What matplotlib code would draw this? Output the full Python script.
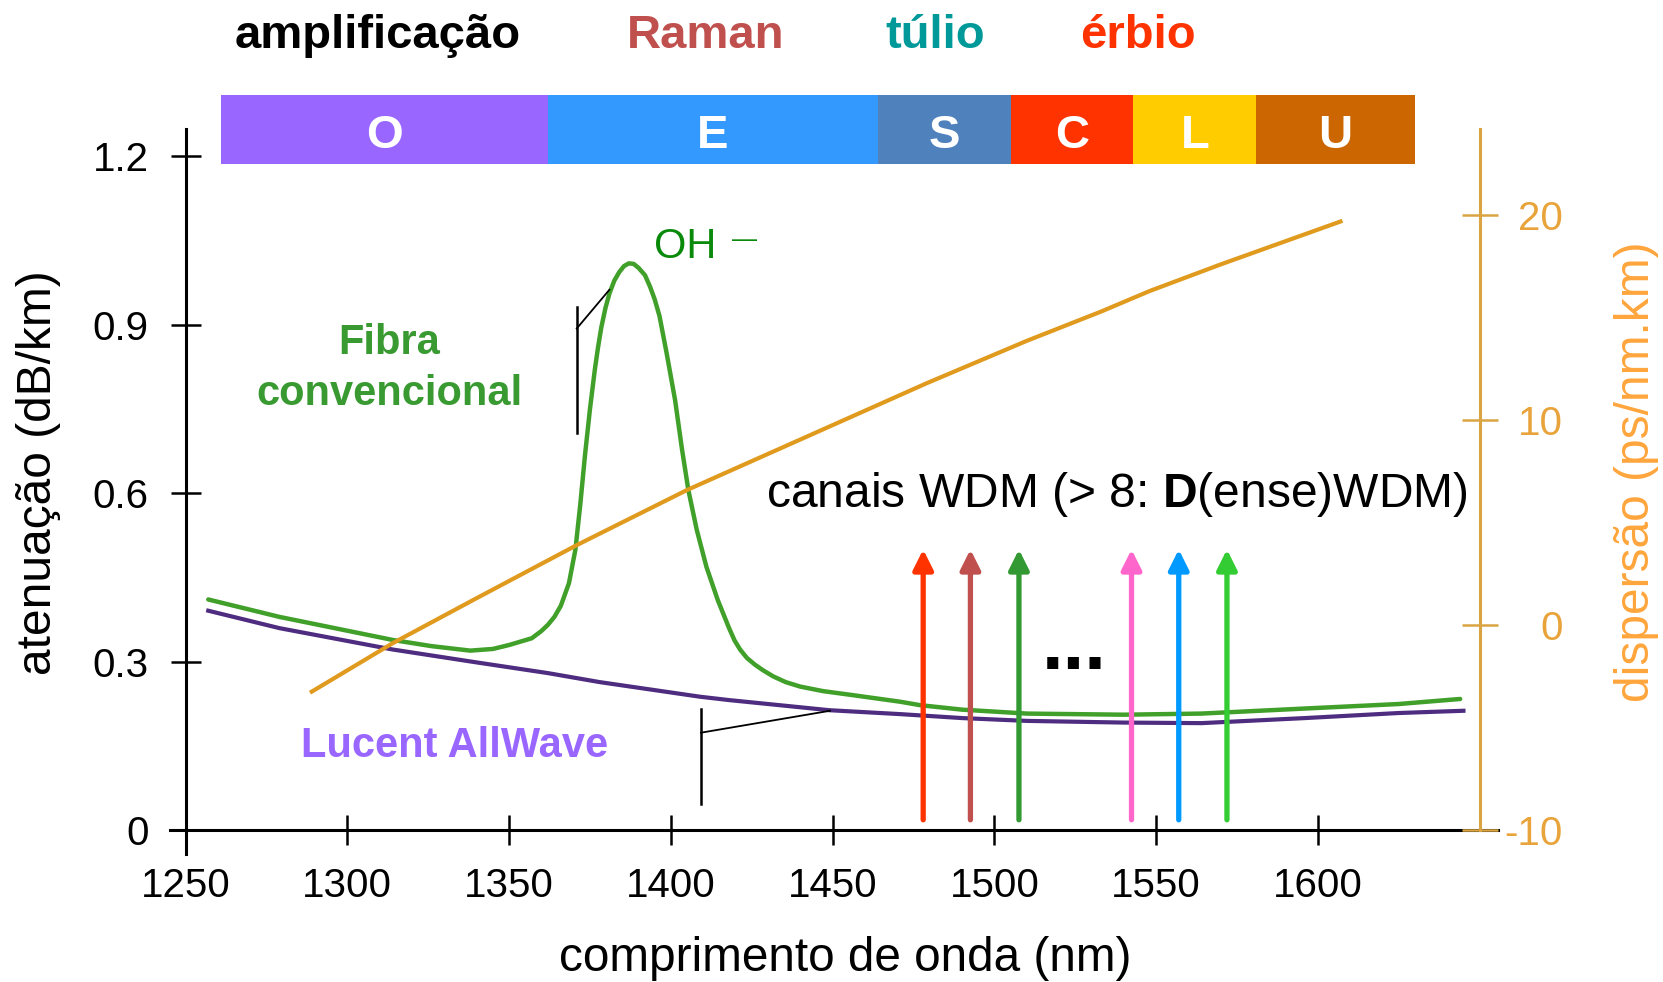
import matplotlib
matplotlib.use('Agg')
import matplotlib.pyplot as plt

plt.rcParams['font.family'] = ['Liberation Sans', 'DejaVu Sans']
plt.rcParams['axes.unicode_minus'] = False
plt.rcParams['mathtext.fontset'] = 'custom'
plt.rcParams['mathtext.rm'] = 'Liberation Sans'
plt.rcParams['mathtext.bf'] = 'Liberation Sans:bold'

# curvas
lam_conv = [1257, 1279, 1314, 1326, 1338, 1345, 1350, 1357, 1360, 1362, 1364, 1366, 1368.5,
            1370.5, 1372, 1373.5, 1375, 1376.5, 1377.5, 1378.5, 1379.8, 1381, 1382.5, 1384,
            1385.5, 1387, 1388.5, 1390, 1392, 1393.6, 1395, 1396.5, 1398.7, 1401.3, 1403.4,
            1405.4, 1408, 1411, 1414.5, 1418, 1419.7, 1421.4, 1423.5, 1426, 1428.5, 1431.7,
            1435.5, 1440, 1447, 1456, 1471, 1477, 1490, 1510, 1540, 1564, 1596, 1625, 1644]
att_conv = [0.411, 0.380, 0.339, 0.328, 0.320, 0.323, 0.330, 0.342, 0.355, 0.366, 0.380,
            0.400, 0.440, 0.500, 0.580, 0.670, 0.750, 0.820, 0.860, 0.895, 0.930, 0.955,
            0.978, 0.993, 1.004, 1.009, 1.008, 1.001, 0.988, 0.967, 0.945, 0.915, 0.849,
            0.766, 0.680, 0.606, 0.535, 0.469, 0.410, 0.360, 0.338, 0.322, 0.307, 0.295,
            0.285, 0.274, 0.264, 0.256, 0.248, 0.241, 0.229, 0.223, 0.215, 0.208, 0.206,
            0.208, 0.217, 0.225, 0.234]

lam_allwave = [1257, 1279, 1314, 1340, 1362, 1378, 1409, 1418, 1449, 1471, 1490, 1510,
               1540, 1564, 1596, 1625, 1645]
att_allwave = [0.391, 0.360, 0.322, 0.299, 0.280, 0.264, 0.238, 0.232, 0.214, 0.207, 0.200,
               0.195, 0.192, 0.191, 0.200, 0.209, 0.213]

lam_disp = [1289, 1314, 1340, 1371, 1405, 1440, 1479, 1510, 1533, 1548, 1570, 1607]
disp = [-3.23, -0.87, 1.33, 3.92, 6.60, 9.06, 11.80, 13.87, 15.30, 16.30, 17.60, 19.69]

# bandas
band_names = ['O', 'E', 'S', 'C', 'L', 'U']
band_edges = [1261, 1362, 1464, 1505, 1543, 1581, 1630]
band_colors = ['#9966FF', '#3399FF', '#4F81BD', '#FF3300', '#FFCC00', '#CC6600']

# canais WDM
wdm_lam = [1478, 1492.6, 1507.6, 1542.4, 1557, 1571.9]
wdm_colors = ['#FF3300', '#C0504D', '#339933', '#FF66CC', '#0099FF', '#33CC33']

x_ticks = [1250, 1300, 1350, 1400, 1450, 1500, 1550, 1600]
att_ticks = [0, 0.3, 0.6, 0.9, 1.2]
att_labels = ['0', '0.3', '0.6', '0.9', '1.2']
disp_ticks = [-10, 0, 10, 20]

top_labels = ['amplificação', 'Raman', 'túlio', 'érbio']
top_colors = ['black', '#C0504D', '#009999', '#FF3300']
top_x = [0.2271, 0.4241, 0.5625, 0.6843]

green = '#40A02A'
purple = '#4E2C80'
gold = '#E09A1E'
gold_axis = '#D9A441'

fig = plt.figure(figsize=(16.63, 9.82), dpi=100)
ax = fig.add_axes([0.11161, 0.15428, 0.77811, 0.71436])
ax.set_xlim(1250, 1650)
ax.set_ylim(0, 1.248)
for s in ax.spines.values():
    s.set_visible(False)

ax.plot(lam_conv, att_conv, color=green, lw=3.2, solid_joinstyle='round',
        solid_capstyle='round', zorder=2)
ax.plot(lam_allwave, att_allwave, color=purple, lw=3.0, solid_joinstyle='round', zorder=2)

# eixos desenhados a mao (passam um pouco alem)
ax.plot([0, 0], [-0.034, 1], color='black', lw=2.2, transform=ax.transAxes, clip_on=False)
ax.plot([-0.012, 1.014], [0, 0], color='black', lw=2.2, transform=ax.transAxes,
        clip_on=False, zorder=5)

ax.set_xticks(x_ticks)
ax.set_yticks(att_ticks)
ax.set_yticklabels(att_labels)
ax.tick_params(axis='both', direction='inout', length=22, width=1.8, labelsize=29)
ax.tick_params(axis='x', pad=15)
ax.tick_params(axis='y', pad=15.5)

# barra das bandas
for i, name in enumerate(band_names):
    x0, x1 = band_edges[i], band_edges[i + 1]
    ax.bar(x0, 0.1227, width=x1 - x0, bottom=1.185, align='edge', color=band_colors[i],
           clip_on=False, zorder=4)
    ax.text((x0 + x1) / 2, 1.2134, name, ha='center', va='baseline', color='white',
            fontsize=34, fontweight='bold', clip_on=False, zorder=5)

# setas WDM
for lam, c in zip(wdm_lam, wdm_colors):
    ax.annotate('', xy=(lam, 0.50), xytext=(lam, 0.019),
                arrowprops=dict(arrowstyle='-|>,head_length=0.6,head_width=0.3',
                                color=c, lw=3.8, mutation_scale=20,
                                shrinkA=0, shrinkB=0), zorder=3)
ax.text(1524.6, 0.287, '...', ha='center', va='baseline', fontsize=56, fontweight='bold')

# textos
ax.text(1313, 0.822, 'Fibra\nconvencional', ha='center', va='center', color='#3A9A32',
        fontsize=30, fontweight='bold', linespacing=1.35)
ax.text(1333, 0.151, 'Lucent AllWave', ha='center', va='center', color='#9966FF',
        fontsize=30, fontweight='bold')
ax.text(1394.9, 1.038, 'OH', ha='left', va='center', color='#0A8A0A', fontsize=30)
ax.text(1422.9, 1.051, '—', ha='center', va='center', color='#0A8A0A', fontsize=18)
ax.text(1429.3, 0.598, r'canais WDM (> 8: $\mathbf{D}$(ense)WDM)', ha='left', va='center',
        fontsize=34.6)

# linhas de chamada
ax.plot([1370.9, 1370.9], [0.932, 0.707], color='black', lw=1.8)
ax.plot([1370.9, 1381.0], [0.893, 0.962], color='black', lw=1.3)
ax.plot([1409.3, 1409.3], [0.216, 0.047], color='black', lw=1.8)
ax.plot([1409.3, 1449.2], [0.174, 0.213], color='black', lw=1.3)

# eixo da dispersao
ax2 = ax.twinx()
ax2.set_ylim(-10, 24.2)
for s in ax2.spines.values():
    s.set_visible(False)
ax2.plot(lam_disp, disp, color=gold, lw=3.0, solid_joinstyle='round', zorder=2)
ax2.plot([1, 1], [0, 1], color=gold_axis, lw=2.2, transform=ax2.transAxes, clip_on=False)
ax2.set_yticks(disp_ticks)
ax2.set_yticklabels([str(t) for t in disp_ticks])
ax2.tick_params(axis='y', direction='inout', length=26, width=1.8, labelsize=29,
                colors=gold_axis, labelcolor='#E8A33A', pad=47)
for lab in ax2.get_yticklabels():
    lab.set_ha('right')

fig.text(39 / 1663, 1 - 473 / 982, 'atenuação (dB/km)', rotation=90, ha='center',
         va='center', fontsize=34.5)
fig.text(1636.5 / 1663, 1 - 472 / 982, 'dispersão (ps/nm.km)', rotation=90, ha='center',
         va='center', fontsize=34.5, color='#FFA53C')
fig.text(845 / 1663, 0.0117, 'comprimento de onda (nm)', ha='center', va='baseline',
         fontsize=34.4)

for t, c, x in zip(top_labels, top_colors, top_x):
    fig.text(x, 0.9514, t, ha='center', va='baseline', color=c, fontsize=34,
             fontweight='bold')

fig.savefig('out.png', dpi=100)
